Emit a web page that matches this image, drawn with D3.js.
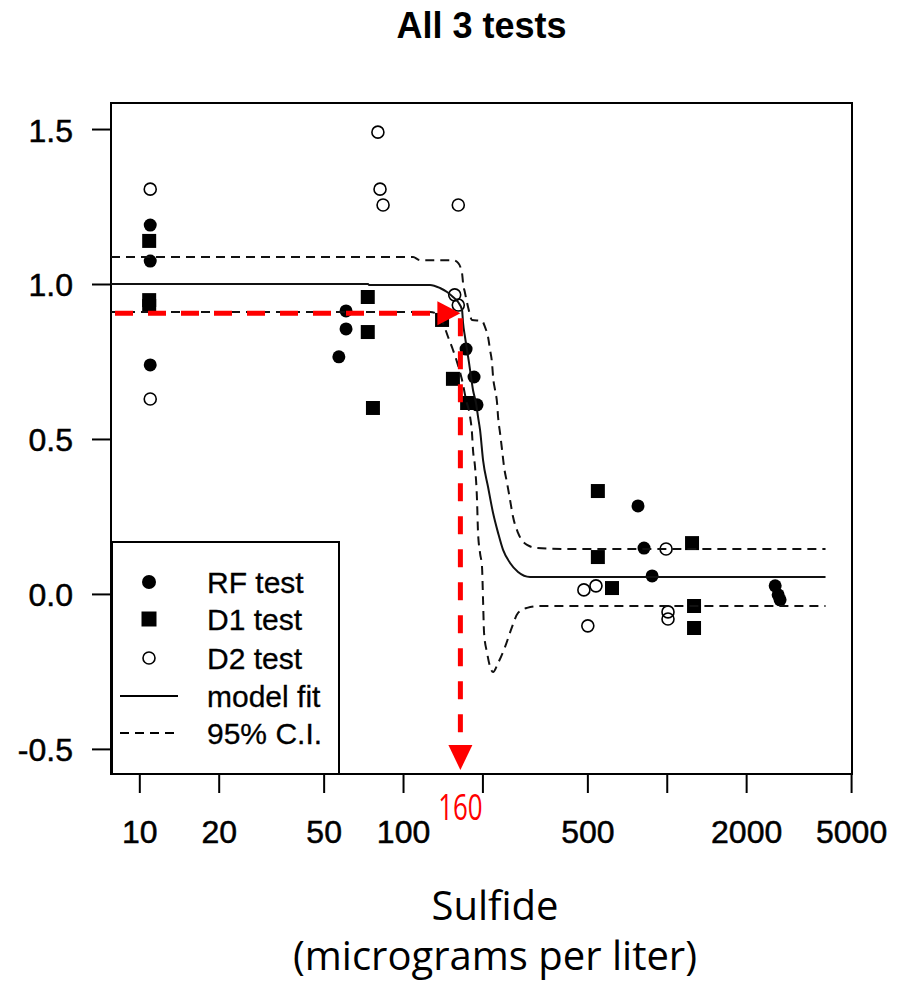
<!DOCTYPE html>
<html><head><meta charset="utf-8">
<script src="https://cdn.jsdelivr.net/npm/d3@7"></script>
<style>body{margin:0;background:#fff}</style>
</head><body>
<svg id="chart" width="900" height="982"></svg>
<script>
const title = "All 3 tests";
const xTicks = [10, 20, 50, 100, 200, 500, 1000, 2000, 5000];
const xTickLabels = ["10", "20", "50", "100", "", "500", "", "2000", "5000"];
const yTicks = [-0.5, 0, 0.5, 1.0, 1.5];
const yTickLabels = ["-0.5", "0.0", "0.5", "1.0", "1.5"];

// RF test (filled circles)
const rfX = [11, 11, 11, 57.1, 60.8, 60.8, 173.4, 185.9, 190.8, 778, 820, 880, 2577, 2645, 2690];
const rfY = [1.19, 1.074, 0.739, 0.765, 0.913, 0.855, 0.79, 0.70, 0.61, 0.284, 0.148, 0.058, 0.026, -0.003, -0.019];
// D1 test (filled squares)
const d1X = [10.9, 10.9, 10.9, 73.5, 73.5, 76.9, 140.6, 154.6, 175, 548, 548, 620, 1247, 1269, 1269];
const d1Y = [1.139, 0.948, 0.929, 0.958, 0.845, 0.60, 0.884, 0.694, 0.616, 0.332, 0.119, 0.019, 0.164, -0.039, -0.11];
// D2 test (open circles)
const d2X = [11, 11, 80.3, 81.8, 84, 162, 157, 162, 485, 539, 502, 994, 1011, 1011];
const d2Y = [1.306, 0.629, 1.49, 1.306, 1.255, 1.255, 0.965, 0.932, 0.013, 0.026, -0.103, 0.145, -0.058, -0.081];

// model fit
const fitX = [7.81, 73.7, 74.3, 126.6, 138.1, 146.9, 154.7, 161.7, 167.4, 168.9, 171.8, 174.9, 178.0, 181.1, 184.2, 189.1, 192.5, 195.9, 201.1, 210.1, 219.5, 229.3, 239.5, 254.6, 273.0, 303.1, 4000];
const fitY = [1.0, 1.0, 0.997, 0.997, 0.987, 0.974, 0.958, 0.942, 0.916, 0.874, 0.829, 0.787, 0.745, 0.7, 0.658, 0.616, 0.571, 0.529, 0.432, 0.345, 0.261, 0.197, 0.142, 0.1, 0.071, 0.055, 0.055];
// upper 95% C.I.
const upX = [7.81, 109.1, 116.0, 154.7, 161.7, 167.4, 168.9, 171.8, 176.4, 182.6, 199.3, 204.6, 210.1, 213.8, 217.5, 219.5, 223.3, 227.3, 229.3, 233.3, 237.4, 241.6, 248.0, 254.6, 261.4, 273.0, 295.3, 322.3, 429.9, 4000];
const upY = [1.087, 1.087, 1.077, 1.077, 1.068, 1.035, 1.003, 0.971, 0.926, 0.884, 0.881, 0.861, 0.829, 0.787, 0.745, 0.7, 0.658, 0.616, 0.571, 0.519, 0.465, 0.41, 0.358, 0.303, 0.248, 0.197, 0.158, 0.148, 0.145, 0.145];
// lower 95% C.I.
const loX = [7.81, 126.6, 134.6, 141.8, 148.2, 154.7, 160.3, 167.4, 173.4, 179.6, 182.6, 184.2, 187.5, 190.8, 192.5, 195.9, 199.3, 201.1, 202.9, 208.3, 213.8, 219.5, 229.3, 243.7, 259.1, 273.0, 295.3, 330.7, 4000];
const loY = [0.910, 0.910, 0.903, 0.874, 0.829, 0.787, 0.748, 0.690, 0.626, 0.571, 0.519, 0.465, 0.410, 0.303, 0.197, 0.132, 0.087, -0.019, -0.126, -0.190, -0.235, -0.252, -0.223, -0.171, -0.106, -0.061, -0.045, -0.039, -0.039];

const legendLabels = ["RF test", "D1 test", "D2 test", "model fit", "95% C.I."];
const annotX = 165;
const annotY = 0.906;
const annotLabel = "160";
const xTitle = ["Sulfide", "(micrograms per liter)"];

const svg = d3.select("#chart");
const L = 111, R = 852, T = 103, B = 774;
const x = d3.scaleLog().domain([7.81, 5040]).range([L, R]);
const y = d3.scaleLinear().domain([-0.581, 1.584]).range([B, T]);

svg.append("defs").append("clipPath").attr("id", "clip")
  .append("rect").attr("x", L).attr("y", T).attr("width", R - L).attr("height", B - T);

// title
svg.append("text").attr("x", (L + R) / 2).attr("y", 38).attr("text-anchor", "middle")
  .attr("font-family", "Liberation Sans, Arial, sans-serif").attr("font-weight", "bold")
  .attr("font-size", 36).attr("fill", "#000").text(title);

// axes
const xAxis = d3.axisBottom(x).tickValues(xTicks)
  .tickFormat((d, i) => xTickLabels[i]).tickSize(19).tickSizeOuter(0);
const gx = svg.append("g").attr("transform", `translate(0,${B})`).call(xAxis);
gx.select(".domain").remove();
gx.selectAll(".tick line").attr("stroke", "#000").attr("stroke-width", 2);
gx.selectAll(".tick text").attr("y", 69).attr("dy", 0)
  .attr("font-family", "Liberation Sans, Arial, sans-serif").attr("font-size", 32).attr("fill", "#000")
  .attr("stroke", "#000").attr("stroke-width", 0.5);

const yAxis = d3.axisLeft(y).tickValues(yTicks)
  .tickFormat((d, i) => yTickLabels[i]).tickSize(19).tickSizeOuter(0);
const gy = svg.append("g").attr("transform", `translate(${L},0)`).call(yAxis);
gy.select(".domain").remove();
gy.selectAll(".tick line").attr("stroke", "#000").attr("stroke-width", 2);
gy.selectAll(".tick text").attr("x", -38).attr("dy", 12)
  .attr("font-family", "Liberation Sans, Arial, sans-serif").attr("font-size", 32).attr("fill", "#000")
  .attr("stroke", "#000").attr("stroke-width", 0.5);

// plot box
svg.append("rect").attr("x", L).attr("y", T).attr("width", R - L).attr("height", B - T)
  .attr("fill", "none").attr("stroke", "#000").attr("stroke-width", 2);

const plot = svg.append("g").attr("clip-path", "url(#clip)");

// points
const rf = rfX.map((v, i) => ({ x: v, y: rfY[i] }));
const d1 = d1X.map((v, i) => ({ x: v, y: d1Y[i] }));
const d2 = d2X.map((v, i) => ({ x: v, y: d2Y[i] }));

plot.selectAll(".rf").data(rf).join("circle").attr("class", "rf")
  .attr("cx", d => x(d.x)).attr("cy", d => y(d.y)).attr("r", 6.5).attr("fill", "#000");
const sq = d3.symbol().type(d3.symbolSquare).size(196);
plot.selectAll(".d1").data(d1).join("path").attr("class", "d1")
  .attr("transform", d => `translate(${x(d.x)},${y(d.y)})`).attr("d", sq).attr("fill", "#000");
plot.selectAll(".d2").data(d2).join("circle").attr("class", "d2")
  .attr("cx", d => x(d.x)).attr("cy", d => y(d.y)).attr("r", 6)
  .attr("fill", "none").attr("stroke", "#000").attr("stroke-width", 1.6);

// curves
const line = d3.line().x(d => x(d.x)).y(d => y(d.y)).curve(d3.curveMonotoneX);
const fit = fitX.map((v, i) => ({ x: v, y: fitY[i] }));
const up = upX.map((v, i) => ({ x: v, y: upY[i] }));
const lo = loX.map((v, i) => ({ x: v, y: loY[i] }));
plot.append("path").datum(fit).attr("d", line).attr("fill", "none")
  .attr("stroke", "#111").attr("stroke-width", 2);
[up, lo].forEach(c => {
  plot.append("path").datum(c).attr("d", line).attr("fill", "none")
    .attr("stroke", "#111").attr("stroke-width", 2).attr("stroke-dasharray", "9,6");
});

// legend
const lg = svg.append("g");
const lgTop = 542, lgRight = 339;
lg.append("rect").attr("x", L + 1).attr("y", lgTop).attr("width", lgRight - L - 1).attr("height", B - lgTop)
  .attr("fill", "#fff").attr("stroke", "#000").attr("stroke-width", 2);
const rowY = [582, 619, 658, 696, 733];
const symX = 149;
lg.append("circle").attr("cx", symX).attr("cy", rowY[0]).attr("r", 7).attr("fill", "#000");
lg.append("path").attr("transform", `translate(${symX},${rowY[1]})`).attr("d", d3.symbol().type(d3.symbolSquare).size(225)).attr("fill", "#000");
lg.append("circle").attr("cx", symX).attr("cy", rowY[2]).attr("r", 6).attr("fill", "none").attr("stroke", "#000").attr("stroke-width", 1.6);
lg.append("line").attr("x1", 120).attr("x2", 178).attr("y1", rowY[3]).attr("y2", rowY[3]).attr("stroke", "#000").attr("stroke-width", 2);
lg.append("line").attr("x1", 120).attr("x2", 178).attr("y1", rowY[4]).attr("y2", rowY[4]).attr("stroke", "#000").attr("stroke-width", 2).attr("stroke-dasharray", "9,6");
legendLabels.forEach((t, i) => {
  lg.append("text").attr("x", 207).attr("y", rowY[i] + 11)
    .attr("font-family", "Liberation Sans, Arial, sans-serif").attr("font-size", 30).attr("fill", "#000")
    .attr("stroke", "#000").attr("stroke-width", 0.3).text(t);
});

// red annotation
const ax = x(annotX), ay = y(annotY);
const red = svg.append("g");
red.append("line").attr("x1", L + 4).attr("x2", ax - 20).attr("y1", ay).attr("y2", ay)
  .attr("stroke", "#ff0000").attr("stroke-width", 5).attr("stroke-dasharray", "18,15");
red.append("path").attr("d", `M${ax - 23},${ay - 12} L${ax},${ay} L${ax - 23},${ay + 12} Z`).attr("fill", "#ff0000");
red.append("line").attr("x1", ax).attr("x2", ax).attr("y1", ay + 5).attr("y2", B - 28)
  .attr("stroke", "#ff0000").attr("stroke-width", 5).attr("stroke-dasharray", "18,15");
red.append("path").attr("d", `M${ax - 12},${B - 29} L${ax},${B - 4} L${ax + 12},${B - 29} Z`).attr("fill", "#ff0000");
red.append("text").attr("transform", `translate(${ax},820) scale(0.72,1)`).attr("text-anchor", "middle")
  .attr("font-family", "Open Sans, sans-serif").attr("font-size", 36).attr("fill", "#ff0000").text(annotLabel);

// x title
svg.append("text").attr("x", 495).attr("y", 920).attr("text-anchor", "middle")
  .attr("font-family", "Open Sans, sans-serif").attr("font-size", 40).attr("fill", "#000").text(xTitle[0]);
svg.append("text").attr("x", 495).attr("y", 970).attr("text-anchor", "middle")
  .attr("font-family", "Open Sans, sans-serif").attr("font-size", 40).attr("fill", "#000").text(xTitle[1]);
</script>
</body></html>
